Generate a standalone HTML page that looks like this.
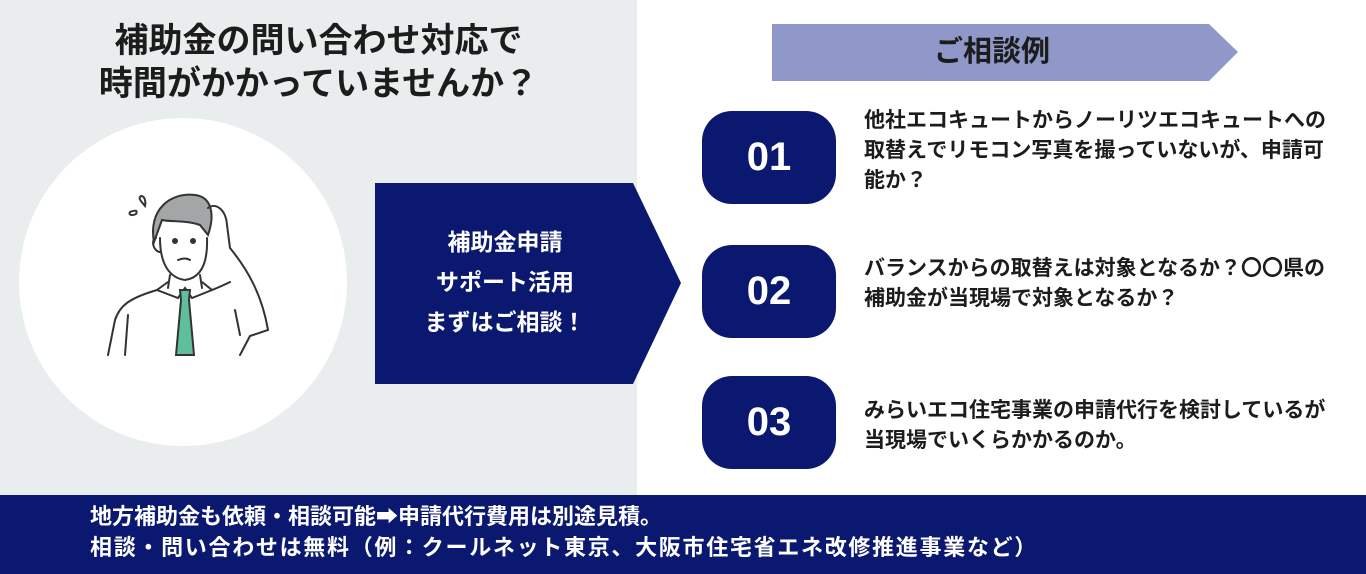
<!DOCTYPE html>
<html><head><meta charset="utf-8"><style>
*{margin:0;padding:0;box-sizing:border-box}
body{width:1366px;height:574px;position:relative;background:#fff;font-family:"Liberation Sans","Noto Sans CJK JP",sans-serif;overflow:hidden;color:#222}
.abs{position:absolute}
.left{left:0;top:0;width:637px;height:495px;background:#e9edee}
.title{left:0;width:637px;top:20px;text-align:center;font-size:34px;font-weight:bold;line-height:43px;color:#1c1c1c;white-space:nowrap}
.circle{left:19px;top:118px;width:328px;height:328px;border-radius:50%;background:#fff}
.pill{left:702px;width:134px;height:93px;border-radius:30px;background:#0b1870;color:#fff;font-size:40px;font-weight:bold;text-align:center;line-height:93px}
.txt{left:864px;font-size:21px;font-weight:bold;line-height:30px;color:#1c1c1c;width:490px;white-space:nowrap}
.bottom{left:0;top:495px;width:1366px;height:79px;background:#0b1870;color:#fff;font-size:22px;font-weight:bold;line-height:31px;padding:6px 0 0 90px;white-space:nowrap}
</style></head><body>
<div class="abs left"></div>
<div class="abs title">補助金の問い合わせ対応で<br>時間がかかっていませんか？</div>
<div class="abs circle"></div>
<svg class="abs" style="left:90px;top:170px" width="200" height="200" viewBox="0 0 200 200" fill="none" stroke="#333" stroke-width="2" stroke-linecap="round">
<path d="M64 72 C58 40 80 22 105 25 C122 27 125 45 118 65 L110 55 C95 50 80 52 72 50 Z" fill="#a3a6a6" stroke="#333"/>
<path d="M70 68 C70 95 80 108 95 110 C110 108 118 95 117 68" fill="#fff"/>
<path d="M66 68 C60 70 64 82 70 82"/>
<circle cx="85" cy="71" r="2" fill="#333"/><circle cx="103" cy="71" r="2" fill="#333"/>
<path d="M88 90 Q95 87 100 90"/>
<path d="M80 105 L78 118 M110 105 L112 118"/>
<path d="M78 112 L67 120 L88 128 L95 118 L102 128 L122 120 L112 112"/>
<path d="M67 120 C40 128 30 135 25 150 L18 185 M122 120 C132 116 140 112 140 112"/>
<path d="M118 38 C126 32 136 40 137 55 L140 78 C158 100 172 125 178 160 L160 166 L150 185"/>
<path d="M38 145 L35 185 M145 140 L150 165"/>
<path d="M55 36 C50 30 48 28 51 26 C55 26 56 32 55 36Z M40 42 C45 40 48 40 46 44 C42 46 38 45 40 42Z" fill="#fff"/>
<path d="M90 120 L100 120 L99 130 L104 185 L86 185 L91 130 Z" fill="#5fbf9a"/>
</svg>
<svg class="abs" style="left:375px;top:183px" width="306" height="201"><polygon points="0,0 258,0 306,100 258,201 0,201" fill="#0b1870"/></svg>
<div class="abs" style="left:375px;top:222px;width:260px;text-align:center;color:#fff;font-size:23px;font-weight:bold;line-height:40px">補助金申請<br>サポート活用<br>まずはご相談！</div>
<svg class="abs" style="left:772px;top:24px" width="467" height="57"><polygon points="0,0 437,0 466,28 437,57 0,57" fill="#8f98c8"/></svg>
<div class="abs" style="left:772px;top:24px;width:440px;line-height:57px;text-align:center;font-size:29px;font-weight:bold;color:#1c1c1c">ご相談例</div>
<div class="abs pill" style="top:111px">01</div>
<div class="abs pill" style="top:245px">02</div>
<div class="abs pill" style="top:376px">03</div>
<div class="abs txt" style="top:106px">他社エコキュートからノーリツエコキュートへの<br>取替えでリモコン写真を撮っていないが、申請可<br>能か？</div>
<div class="abs txt" style="top:254px">バランスからの取替えは対象となるか？〇〇県の<br>補助金が当現場で対象となるか？</div>
<div class="abs txt" style="top:396px">みらいエコ住宅事業の申請代行を検討しているが<br>当現場でいくらかかるのか。</div>
<div class="abs bottom">地方補助金も依頼・相談可能➡申請代行費用は別途見積。<br><span style="letter-spacing:1.7px">相談・問い合わせは無料（例：クールネット東京、大阪市住宅省エネ改修推進事業など）</span></div>
</body></html>
